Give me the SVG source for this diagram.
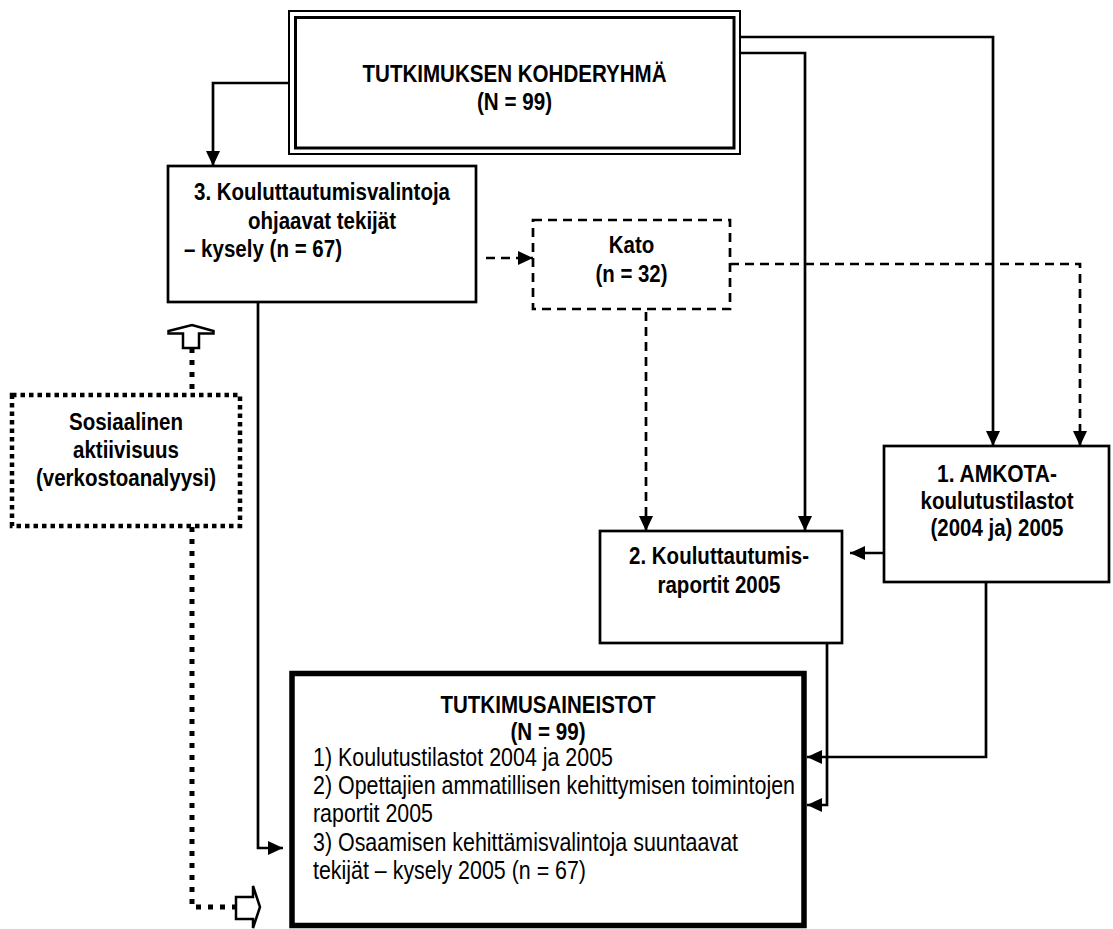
<svg xmlns="http://www.w3.org/2000/svg" width="1113" height="929" viewBox="0 0 1113 929">
  <style>
    .box { fill: #fff; stroke: #000; stroke-width: 2.7; }
    .dash-box { fill: #fff; stroke: #000; stroke-width: 2.7; stroke-dasharray: 9 6; }
    .dot-box { fill: #fff; stroke: #000; stroke-width: 4.5; stroke-dasharray: 4.5 4; }
    .thick-box { fill: #fff; stroke: #000; stroke-width: 5.5; }
    .line { fill: none; stroke: #000; stroke-width: 2.7; }
    .dash { fill: none; stroke: #000; stroke-width: 2.7; stroke-dasharray: 9 6; }
    .dots { fill: none; stroke: #000; stroke-width: 5; stroke-dasharray: 5 7; }
    .hollow { fill: #fff; stroke: #000; stroke-width: 2.5; stroke-linejoin: miter; }
    .b { font-family: "Liberation Sans", Arial, sans-serif; font-weight: bold; font-size: 24.5px; fill: #000; }
    .r { font-family: "Liberation Sans", Arial, sans-serif; font-size: 25px; fill: #000; }
    .c { text-anchor: middle; }
  </style>
  <defs>
    <marker id="head" markerUnits="userSpaceOnUse" markerWidth="15" markerHeight="14" refX="15" refY="7" orient="auto">
      <path d="M0,0 L15,7 L0,14 Z" fill="#000"/>
    </marker>
  </defs>

  <!-- connectors -->
  <g id="connectors">
    <path class="line" d="M289,83 H213 V166" marker-end="url(#head)"/>
    <path class="line" d="M740,37 H993 V446" marker-end="url(#head)"/>
    <path class="line" d="M740,53 H805 V531" marker-end="url(#head)"/>
    <path class="dash" d="M486,258 H533" marker-end="url(#head)"/>
    <path class="dash" d="M730,264 H1080 V446" marker-end="url(#head)"/>
    <path class="dash" d="M646,312 V531" marker-end="url(#head)"/>
    <path class="line" d="M884,553 H850" marker-end="url(#head)"/>
    <path class="line" d="M986,582 V757 H807" marker-end="url(#head)"/>
    <path class="line" d="M827,643 V805 H807" marker-end="url(#head)"/>
    <path class="line" d="M258,302 V848 H283" marker-end="url(#head)"/>
    <path class="dots" d="M192,348 V395"/>
    <path class="dots" d="M192,527 V907 H236"/>
    <polygon class="hollow" points="183,348 183,333.5 168.5,333.5 168.5,331 192,325 213.5,331 213.5,333.5 199,333.5 199,348"/>
    <polygon class="hollow" points="236,897 253,897 253,886 260,907 253,928 253,919 236,919"/>
  </g>

  <!-- target group -->
  <g id="kohderyhma">
    <rect x="289" y="11" width="451" height="143" fill="#fff" stroke="#000" stroke-width="2"/>
    <rect x="295.5" y="17.5" width="438.5" height="130.5" fill="none" stroke="#000" stroke-width="3"/>
    <text class="b c" x="514.5" y="82" textLength="304" lengthAdjust="spacingAndGlyphs">TUTKIMUKSEN KOHDERYHMÄ</text>
    <text class="b c" x="514.5" y="110" textLength="75" lengthAdjust="spacingAndGlyphs">(N = 99)</text>
  </g>

  <!-- survey -->
  <g id="kysely">
    <rect class="box" x="168" y="166" width="308" height="136"/>
    <text class="b c" x="322" y="200" textLength="256" lengthAdjust="spacingAndGlyphs">3. Kouluttautumisvalintoja</text>
    <text class="b c" x="322" y="229" textLength="148" lengthAdjust="spacingAndGlyphs">ohjaavat tekijät</text>
    <text class="b" x="184" y="257" textLength="158" lengthAdjust="spacingAndGlyphs">– kysely (n = 67)</text>
  </g>

  <!-- non-response -->
  <g id="kato">
    <rect class="dash-box" x="533" y="220" width="197" height="89"/>
    <text class="b c" x="631.5" y="253" textLength="45.5" lengthAdjust="spacingAndGlyphs">Kato</text>
    <text class="b c" x="631.5" y="282" textLength="72" lengthAdjust="spacingAndGlyphs">(n = 32)</text>
  </g>

  <!-- social activity -->
  <g id="sosiaalinen">
    <rect class="dot-box" x="12" y="395" width="228" height="131"/>
    <text class="b c" x="126" y="430" textLength="114" lengthAdjust="spacingAndGlyphs">Sosiaalinen</text>
    <text class="b c" x="126" y="458" textLength="106" lengthAdjust="spacingAndGlyphs">aktiivisuus</text>
    <text class="b c" x="126" y="486" textLength="180" lengthAdjust="spacingAndGlyphs">(verkostoanalyysi)</text>
  </g>

  <!-- reports -->
  <g id="raportit">
    <rect class="box" x="600" y="531" width="242" height="112"/>
    <text class="b c" x="719" y="564" textLength="180" lengthAdjust="spacingAndGlyphs">2. Kouluttautumis-</text>
    <text class="b c" x="719" y="593" textLength="123" lengthAdjust="spacingAndGlyphs">raportit 2005</text>
  </g>

  <!-- statistics -->
  <g id="amkota">
    <rect class="box" x="884" y="446" width="225" height="136"/>
    <text class="b c" x="997" y="482" textLength="120" lengthAdjust="spacingAndGlyphs">1. AMKOTA-</text>
    <text class="b c" x="997" y="509" textLength="153" lengthAdjust="spacingAndGlyphs">koulutustilastot</text>
    <text class="b c" x="997" y="536" textLength="133" lengthAdjust="spacingAndGlyphs">(2004 ja) 2005</text>
  </g>

  <!-- research data -->
  <g id="aineistot">
    <rect class="thick-box" x="292" y="673.5" width="512" height="252"/>
    <text class="b c" x="548" y="713" textLength="215" lengthAdjust="spacingAndGlyphs">TUTKIMUSAINEISTOT</text>
    <text class="b c" x="548" y="740" textLength="75" lengthAdjust="spacingAndGlyphs">(N = 99)</text>
    <text class="r" x="313" y="766" textLength="300" lengthAdjust="spacingAndGlyphs">1) Koulutustilastot 2004 ja 2005</text>
    <text class="r" x="313" y="794" textLength="482" lengthAdjust="spacingAndGlyphs">2) Opettajien ammatillisen kehittymisen toimintojen</text>
    <text class="r" x="313" y="822" textLength="120" lengthAdjust="spacingAndGlyphs">raportit 2005</text>
    <text class="r" x="313" y="851" textLength="425" lengthAdjust="spacingAndGlyphs">3) Osaamisen kehittämisvalintoja suuntaavat</text>
    <text class="r" x="313" y="879" textLength="273" lengthAdjust="spacingAndGlyphs">tekijät – kysely 2005 (n = 67)</text>
  </g>
</svg>
